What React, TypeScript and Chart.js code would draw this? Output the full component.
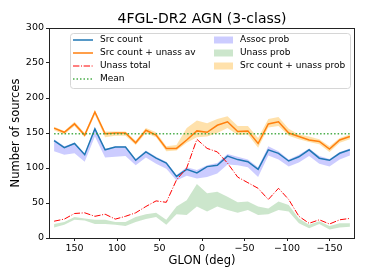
import { useEffect, useRef } from 'react';
import { Chart, registerables } from 'chart.js';
Chart.register(...registerables);

const glon = [174, 162, 150, 138, 126, 114, 102, 90, 78, 66, 54, 42, 30, 18, 6, -6, -18, -30, -42, -54, -66, -78, -90, -102, -114, -126, -138, -150, -162, -174];
const srcCount = [139, 129, 135, 119, 156, 126, 130, 130, 111, 123, 114, 107, 88, 98, 93, 102, 104, 117, 112, 109, 98, 126, 121, 110, 116, 126, 114, 111, 121, 126];
const assocLow = [124, 119, 121, 109, 145, 115, 116, 117, 104, 115, 106, 99, 82, 89, 85, 87, 92, 105, 104, 101, 87, 118, 112, 102, 108, 117, 106, 102, 112, 118];
const assocHigh = [141, 131, 136, 121, 158, 127, 131, 131, 113, 125, 116, 109, 90, 101, 97, 104, 107, 120, 116, 112, 101, 131, 124, 112, 119, 128, 117, 113, 123, 128];
const srcUnassAv = [157, 151, 163, 147, 180, 149, 150, 150, 136, 154, 147, 128, 128, 140, 153, 151, 161, 166, 152, 153, 135, 163, 166, 150, 145, 140, 138, 127, 140, 145];
const sumLow = [154, 148, 160, 144, 176, 144, 146, 146, 133, 150, 144, 124, 125, 136, 144, 145, 150, 157, 147, 148, 129, 158, 160, 146, 141, 137, 134, 123, 136, 141];
const sumHigh = [159, 153, 166, 150, 183, 152, 152, 152, 139, 157, 151, 131, 133, 157, 168, 164, 170, 174, 160, 160, 143, 170, 173, 156, 148, 145, 141, 131, 143, 148];
const unassTotal = [24, 27, 35, 36, 31, 34, 27, 31, 36, 45, 53, 51, 83, 100, 141, 128, 123, 107, 87, 79, 71, 55, 71, 55, 31, 21, 26, 20, 26, 28];
const unassLow = [15, 19, 26, 25, 20, 20, 19, 17, 23, 27, 30, 19, 34, 33, 45, 38, 45, 40, 36, 40, 33, 34, 40, 38, 21, 14, 20, 12, 15, 16];
const unassHigh = [20, 23, 30, 28, 26, 26, 23, 23, 30, 34, 36, 26, 45, 54, 77, 64, 66, 59, 51, 52, 45, 42, 52, 47, 28, 19, 24, 17, 21, 21];
const meanX = [174, -174];
const meanY = [149, 149];
const xTicks = [150, 100, 50, 0, -50, -100, -150];
const yTicks = [0, 50, 100, 150, 200, 250, 300];

const FONT = 'DejaVu Sans';
const BLUE = '#1f77b4';
const ORANGE = '#ff7f0e';
const RED = '#ff0000';
const MEAN = 'rgba(44,160,44,0.85)';
const F_ASSOC = 'rgba(0,0,255,0.2)';
const F_UNASS = 'rgba(0,128,0,0.2)';
const F_SUM = 'rgba(255,165,0,0.33)';

const pts = (xs: number[], ys: number[]) => xs.map((x, i) => ({ x, y: ys[i] }));

const lineItems = [
  { label: 'Src count', color: BLUE, dash: [] as number[], width: 1.5 },
  { label: 'Src count + unass av', color: ORANGE, dash: [] as number[], width: 1.5 },
  { label: 'Unass total', color: RED, dash: [6.4, 1.6, 1, 1.6], width: 1 },
  { label: 'Mean', color: MEAN, dash: [1.5, 2], width: 1.5 },
];
const patchItems = [
  { label: 'Assoc prob', color: F_ASSOC },
  { label: 'Unass prob', color: F_UNASS },
  { label: 'Src count + unass prob', color: F_SUM },
];

const decor = {
  id: 'decor',
  afterDraw(chart: any) {
    const { ctx, chartArea } = chart;
    const { left, right, top, bottom } = chartArea;
    ctx.save();
    // frame
    ctx.strokeStyle = '#222';
    ctx.lineWidth = 1;
    ctx.strokeRect(left + 0.5, top + 0.5, right - left - 1, bottom - top);
    // title
    ctx.fillStyle = '#000';
    ctx.font = `14px "${FONT}"`;
    ctx.textAlign = 'center';
    ctx.textBaseline = 'middle';
    ctx.fillText('4FGL-DR2 AGN (3-class)', (left + right) / 2, top - 9);
    // legend
    const bx = left + 21, by = top + 5, bw = 280, bh = 55;
    ctx.beginPath();
    if (ctx.roundRect) ctx.roundRect(bx + 0.5, by + 0.5, bw, bh, 3);
    else ctx.rect(bx + 0.5, by + 0.5, bw, bh);
    ctx.fillStyle = 'rgba(255,255,255,0.8)';
    ctx.fill();
    ctx.strokeStyle = '#d6d6d6';
    ctx.lineWidth = 1;
    ctx.stroke();
    ctx.font = `9px "${FONT}"`;
    ctx.textAlign = 'left';
    ctx.textBaseline = 'middle';
    lineItems.forEach((it, i) => {
      const y = by + 7 + i * 13;
      ctx.beginPath();
      ctx.setLineDash(it.dash);
      ctx.strokeStyle = it.color;
      ctx.lineWidth = it.width;
      ctx.moveTo(bx + 3, y);
      ctx.lineTo(bx + 23, y);
      ctx.stroke();
      ctx.setLineDash([]);
      ctx.fillStyle = '#000';
      ctx.fillText(it.label, bx + 30, y);
    });
    patchItems.forEach((it, i) => {
      const y = by + 7 + i * 13;
      ctx.fillStyle = it.color;
      ctx.fillRect(bx + 144, y - 3.5, 19, 7);
      ctx.fillStyle = '#000';
      ctx.fillText(it.label, bx + 170, y);
    });
    ctx.restore();
  },
};

export default function App() {
  const ref = useRef<HTMLCanvasElement>(null);
  useEffect(() => {
    document.body.style.margin = '0';
    const band = (data: number[], fillColor: string | false) => ({
      data: pts(glon, data),
      borderWidth: 0,
      pointRadius: 0,
      backgroundColor: fillColor || 'transparent',
      borderColor: 'transparent',
      fill: fillColor ? '-1' : false,
      order: 10,
      tension: 0,
    });
    const chart = new Chart(ref.current as HTMLCanvasElement, {
      type: 'line',
      data: {
        datasets: [
          band(sumLow, false),
          band(sumHigh, F_SUM),
          band(assocLow, false),
          band(assocHigh, F_ASSOC),
          band(unassLow, false),
          band(unassHigh, F_UNASS),
          { label: 'Mean', data: pts(meanX, meanY), borderColor: MEAN, borderWidth: 1.5, borderDash: [1.5, 2], pointRadius: 0, fill: false, order: 1 },
          { label: 'Unass total', data: pts(glon, unassTotal), borderColor: RED, borderWidth: 1, borderDash: [6.4, 1.6, 1, 1.6], pointRadius: 0, fill: false, order: 2 },
          { label: 'Src count + unass av', data: pts(glon, srcUnassAv), borderColor: ORANGE, borderWidth: 1.5, pointRadius: 0, fill: false, order: 3 },
          { label: 'Src count', data: pts(glon, srcCount), borderColor: BLUE, borderWidth: 1.5, pointRadius: 0, fill: false, order: 4 },
        ] as any,
      },
      options: {
        animation: false,
        responsive: false,
        devicePixelRatio: 1,
        layout: { padding: { top: 28, right: 19, left: 0, bottom: 0 } },
        plugins: { legend: { display: false }, tooltip: { enabled: false }, title: { display: false } },
        scales: {
          x: {
            type: 'linear',
            min: -180,
            max: 180,
            reverse: true,
            afterFit: (s: any) => { s.height = 42; },
            afterBuildTicks: (s: any) => { s.ticks = xTicks.map((v) => ({ value: v })); },
            grid: { drawOnChartArea: false, drawTicks: true, tickLength: 3, color: '#222' },
            border: { display: false },
            ticks: {
              color: '#000',
              font: { family: FONT, size: 9.5 },
              padding: 2,
              maxRotation: 0,
              callback: (v: any) => (Number(v) < 0 ? '\u2212' + Math.abs(Number(v)) : String(v)),
            },
            title: { display: true, text: 'GLON (deg)', color: '#000', font: { family: FONT, size: 11.5 }, padding: { top: 0, bottom: 12 } },
          },
          y: {
            type: 'linear',
            min: 0,
            max: 300,
            afterFit: (s: any) => { s.width = 49; },
            afterBuildTicks: (s: any) => { s.ticks = yTicks.map((v) => ({ value: v })); },
            grid: { drawOnChartArea: false, drawTicks: true, tickLength: 3, color: '#222' },
            border: { display: false },
            ticks: { color: '#000', font: { family: FONT, size: 9.5 }, padding: 2 },
            title: { display: true, text: 'Number of sources', color: '#000', font: { family: FONT, size: 11.5 }, padding: { top: 9, bottom: 0 } },
          },
        },
      },
      plugins: [decor],
    } as any);
    return () => chart.destroy();
  }, []);
  return (
    <div style={{ width: 374, height: 280 }}>
      <canvas ref={ref} width={374} height={280} />
    </div>
  );
}
